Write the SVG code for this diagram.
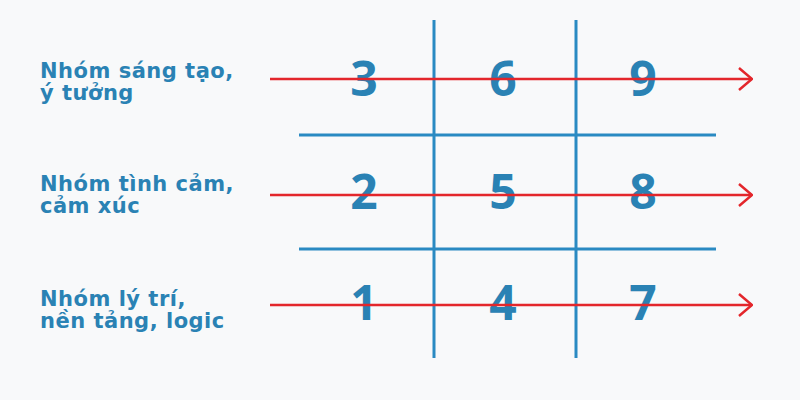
<svg xmlns="http://www.w3.org/2000/svg" width="800" height="400" viewBox="0 0 800 400">
<defs>
<style>
.lbl{font-family:"DejaVu Sans","Liberation Sans",sans-serif;font-weight:bold;font-size:21px;letter-spacing:0.5px;fill:#2a82b4}
.num{font-family:"Open Sans","DejaVu Sans",sans-serif;font-weight:700;font-size:48px;fill:#2a82b4;text-anchor:middle}
.grid{stroke:#2a8ac2;stroke-width:3;fill:none}
.arrow{stroke:#e3262b;stroke-width:2.5;fill:none}
</style>
<marker id="ah" viewBox="0 0 16 24" refX="15" refY="12" markerWidth="16" markerHeight="24" markerUnits="userSpaceOnUse" orient="auto">
<path d="M2,1 L15,12 L2,23" fill="none" stroke="#e3262b" stroke-width="2.5"/>
</marker>
</defs>
<rect width="800" height="400" fill="#f8f9fa"/>
<g id="grid">
<line class="grid" x1="434" y1="20" x2="434" y2="358"/>
<line class="grid" x1="576" y1="20" x2="576" y2="358"/>
<line class="grid" x1="299" y1="135" x2="716" y2="135"/>
<line class="grid" x1="299" y1="249" x2="716" y2="249"/>
</g>
<g id="numbers">
<text class="num" x="364" y="96">3</text>
<text class="num" x="503" y="96">6</text>
<text class="num" x="643" y="96">9</text>
<text class="num" x="364" y="209">2</text>
<text class="num" x="503" y="209">5</text>
<text class="num" x="643" y="209">8</text>
<text class="num" x="364" y="320">1</text>
<text class="num" x="503" y="320">4</text>
<text class="num" x="643" y="320">7</text>
</g>
<g id="connectors">
<line class="arrow" x1="270" y1="79" x2="752" y2="79" marker-end="url(#ah)"/>
<line class="arrow" x1="270" y1="195" x2="752" y2="195" marker-end="url(#ah)"/>
<line class="arrow" x1="270" y1="305" x2="752" y2="305" marker-end="url(#ah)"/>
</g>
<g id="label-top">
<text class="lbl" x="40" y="78">Nhóm sáng tạo,</text>
<text class="lbl" x="40" y="100">ý tưởng</text>
</g>
<g id="label-mid">
<text class="lbl" x="40" y="191">Nhóm tình cảm,</text>
<text class="lbl" x="40" y="213">cảm xúc</text>
</g>
<g id="label-bottom">
<text class="lbl" x="40" y="306">Nhóm lý trí,</text>
<text class="lbl" x="40" y="328">nền tảng, logic</text>
</g>
</svg>
